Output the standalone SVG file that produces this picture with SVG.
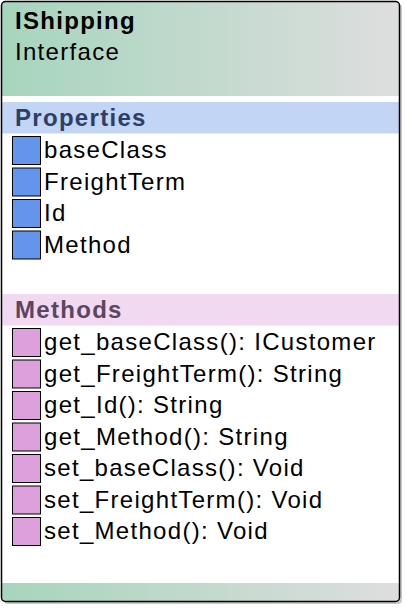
<svg xmlns="http://www.w3.org/2000/svg" width="406" height="608" viewBox="0 0 406 608">
<defs>
<linearGradient id="hg" x1="0" y1="0" x2="1" y2="0">
<stop offset="0" stop-color="#a6d5bd"/>
<stop offset="1" stop-color="#dedede"/>
</linearGradient>
<clipPath id="boxclip"><rect x="1.5" y="1.5" width="398" height="600" rx="4"/></clipPath>
<style>
text{font-family:"Liberation Sans",Arial,sans-serif;font-size:24px;letter-spacing:1.3px;fill:#000}
.b{font-weight:bold}
.ph{fill:#2e3e66}
.mh{fill:#5b4560}
.pi{fill:#6495ed;stroke:#000;stroke-width:1}
.mi{fill:#dda0dd;stroke:#000;stroke-width:1}
</style>
</defs>
<g id="IShipping">
<rect x="4" y="4" width="398" height="600" rx="4" fill="#c8c8c8"/>
<rect x="1.5" y="1.5" width="398" height="600" rx="4" fill="#fff"/>
<g clip-path="url(#boxclip)">
<rect x="0" y="0" width="402" height="96" fill="url(#hg)"/>
<rect x="0" y="102" width="402" height="31.5" fill="#c3d5f5"/>
<rect x="0" y="294" width="402" height="31.5" fill="#f2d9f2"/>
<rect x="0" y="583" width="402" height="20" fill="url(#hg)"/>
</g>
<rect x="1.5" y="1.5" width="398" height="600" rx="4" fill="none" stroke="#000" stroke-width="1.5"/>
<text class="b" x="15" y="29">IShipping</text>
<text x="15" y="60">Interface</text>
<text class="b ph" x="15" y="126">Properties</text>
<text class="b mh" x="15" y="317.5">Methods</text>
</g>
<g id="properties">
<rect class="pi" x="12.5" y="136.5" width="28" height="28"/>
<text x="44" y="158">baseClass</text>
<rect class="pi" x="12.5" y="168" width="28" height="28"/>
<text x="44" y="189.5">FreightTerm</text>
<rect class="pi" x="12.5" y="199.5" width="28" height="28"/>
<text x="44" y="221">Id</text>
<rect class="pi" x="12.5" y="231" width="28" height="28"/>
<text x="44" y="252.5">Method</text>
</g>
<g id="methods">
<rect class="mi" x="12.5" y="328.5" width="28" height="28"/>
<text x="44" y="350">get_baseClass(): ICustomer</text>
<rect class="mi" x="12.5" y="360" width="28" height="28"/>
<text x="44" y="381.5">get_FreightTerm(): String</text>
<rect class="mi" x="12.5" y="391.5" width="28" height="28"/>
<text x="44" y="413">get_Id(): String</text>
<rect class="mi" x="12.5" y="423" width="28" height="28"/>
<text x="44" y="444.5">get_Method(): String</text>
<rect class="mi" x="12.5" y="454.5" width="28" height="28"/>
<text x="44" y="476">set_baseClass(): Void</text>
<rect class="mi" x="12.5" y="486" width="28" height="28"/>
<text x="44" y="507.5">set_FreightTerm(): Void</text>
<rect class="mi" x="12.5" y="517.5" width="28" height="28"/>
<text x="44" y="539">set_Method(): Void</text>
</g>
<g id="connectors"/>
</svg>
